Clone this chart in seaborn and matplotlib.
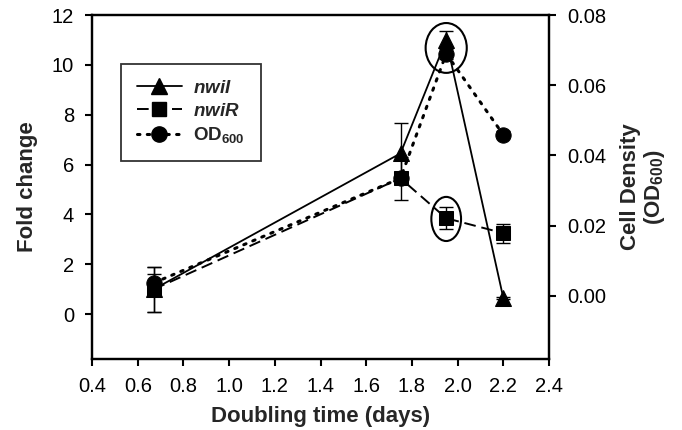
import matplotlib
matplotlib.use("Agg")
import matplotlib.pyplot as plt
from matplotlib.patches import Ellipse
from matplotlib.lines import Line2D
import numpy as np
import seaborn as sns

# doubling time (days)
doubling = [0.67, 1.75, 1.95, 2.2]

# fold change, left axis
nwiI = [1.0, 6.45, 11.0, 0.65]
nwiI_err = [0.9, 1.2, 0.35, 0.05]
nwiR = [1.0, 5.45, 3.85, 3.25]
nwiR_err = [0.9, 0.85, 0.45, 0.38]

# cell density, right axis
od600 = [0.0037, 0.0335, 0.069, 0.0459]
od600_err = [0.0025, 0.0015, 0.0015, 0.001]

sns.set_style("ticks")
plt.rcParams['font.family'] = ['Liberation Sans', 'DejaVu Sans']
plt.rcParams['mathtext.fontset'] = 'custom'
plt.rcParams['mathtext.bf'] = 'Liberation Sans:bold'
plt.rcParams['mathtext.rm'] = 'Liberation Sans'
plt.rcParams['mathtext.bfit'] = 'Liberation Sans:bold:italic'

DASH = (0, (6, 3))
DOT = (0, (0.8, 2.4))

fig = plt.figure(figsize=(6.82, 4.30), dpi=100)
ax = fig.add_axes([0.135, 0.165, 0.670, 0.800])
ax2 = ax.twinx()

sns.lineplot(x=doubling, y=nwiI, ax=ax, color='black', linestyle='-', lw=1.3,
             marker='^', markersize=12, markeredgecolor='black', zorder=4)
ax.errorbar(doubling, nwiI, yerr=nwiI_err, fmt='none', ecolor='black',
            elinewidth=1, capsize=5, capthick=1, zorder=3)
sns.lineplot(x=doubling, y=nwiR, ax=ax, color='black', linestyle=DASH, lw=1.4,
             marker='s', markersize=10, markeredgecolor='black', zorder=4)
ax.errorbar(doubling, nwiR, yerr=nwiR_err, fmt='none', ecolor='black',
            elinewidth=1, capsize=5, capthick=1, zorder=3)

sns.lineplot(x=doubling, y=od600, ax=ax2, color='black', linestyle=DOT, lw=2.2,
             dash_capstyle='round', marker='o', markersize=11,
             markeredgecolor='black', zorder=4)
ax2.errorbar(doubling, od600, yerr=od600_err, fmt='none', ecolor='black',
             elinewidth=1, capsize=5, capthick=1, zorder=3)

# highlight circles
ax.add_patch(Ellipse((1.95, 10.68), 0.18, 2.0, fill=False, edgecolor='black', lw=1.5, zorder=6))
ax.add_patch(Ellipse((1.95, 3.82), 0.13, 1.77, fill=False, edgecolor='black', lw=1.5, zorder=6))

ax.set_xlim(0.4, 2.4)
ax.set_ylim(-1.8, 12)
ax2.set_ylim(-0.018, 0.08)
ax.set_xticks(np.arange(0.4, 2.41, 0.2))
ax.set_xticklabels([f"{v:.1f}" for v in np.arange(0.4, 2.41, 0.2)])
ax.set_yticks(range(0, 13, 2))
ax2.set_yticks([0.0, 0.02, 0.04, 0.06, 0.08])
ax2.set_yticklabels(["0.00", "0.02", "0.04", "0.06", "0.08"])

for a in (ax, ax2):
    for s in a.spines.values():
        s.set_visible(True)
        s.set_linewidth(1.6)
        s.set_color('black')
    a.tick_params(direction='out', length=5, width=1.5, labelsize=14.5,
                  colors='black', pad=8)
ax.tick_params(axis='x', pad=8)

ax.set_xlabel("Doubling time (days)", fontsize=16, fontweight='bold', labelpad=7)
ax.set_ylabel("Fold change", fontsize=16, fontweight='bold', labelpad=10)
ax2.set_ylabel("Cell Density\n(OD$_{\\mathbf{600}}$)", fontsize=16, fontweight='bold',
               labelpad=10, linespacing=1.05)

handles = [
    Line2D([], [], color='black', lw=1.3, marker='^', markersize=12),
    Line2D([], [], color='black', lw=1.4, linestyle=DASH, marker='s', markersize=10),
    Line2D([], [], color='black', lw=2.2, linestyle=DOT, dash_capstyle='round',
           marker='o', markersize=11),
]
labels = [r"$\mathbfit{nwiI}$", r"$\mathbfit{nwiR}$", r"$\mathbf{OD_{600}}$"]
leg = ax.legend(handles, labels, loc='upper left', bbox_to_anchor=(0.063, 0.858),
                frameon=True, fancybox=False, edgecolor='black', fontsize=13.5,
                handlelength=2.4, borderpad=0.85, labelspacing=0.3,
                borderaxespad=0, handletextpad=0.6)
leg.get_frame().set_linewidth(1.3)
if ax2.get_legend() is not None:
    ax2.get_legend().remove()

fig.savefig("out.png", dpi=100)
